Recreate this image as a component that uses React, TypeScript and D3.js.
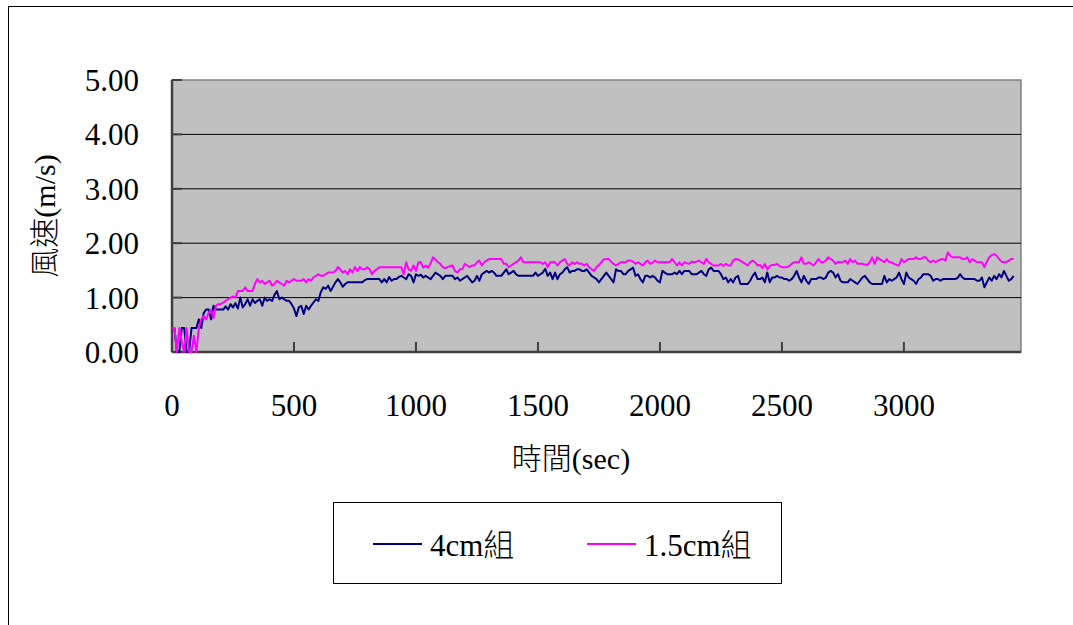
import React from 'react';
import * as d3 from 'd3';

// wind speed (m/s), one reading every 10 s
const STEP_SEC = 10;

const blue4cm = [
  // 0 - 520 s
  0.44, 0.44, 0, 0, 0.44, 0.44, 0, 0, 0.44, 0.44,
  0.44, 0.6, 0.44, 0.72, 0.78, 0.78, 0.6, 0.85, 0.78, 0.78,
  0.78, 0.78, 0.84, 0.78, 0.88, 0.82, 0.9, 0.8, 1.0, 0.82,
  0.88, 0.97, 0.85, 0.97, 0.9, 0.94, 0.97, 0.85, 1.0, 0.94,
  0.97, 0.94, 1.05, 1.12, 0.97, 1.0, 0.97, 0.94, 0.94, 0.88,
  0.8, 0.66, 0.82,
  // 530 - 1010 s
  0.85, 0.7, 0.85, 0.78, 0.85, 0.91, 0.97, 0.94, 1.1, 1.19,
  1.16, 1.22, 1.12, 1.2, 1.28, 1.34, 1.28, 1.2, 1.25, 1.28,
  1.28, 1.28, 1.28, 1.28, 1.28, 1.28, 1.32, 1.34, 1.34, 1.34,
  1.34, 1.34, 1.34, 1.28, 1.34, 1.28, 1.38, 1.31, 1.34, 1.34,
  1.38, 1.4, 1.37, 1.34, 1.43, 1.4, 1.28, 1.43, 1.4,
  // 1020 - 1590 s
  1.42, 1.37, 1.4, 1.37, 1.34, 1.4, 1.46, 1.43, 1.4, 1.34,
  1.4, 1.4, 1.4, 1.4, 1.34, 1.37, 1.31, 1.34, 1.37, 1.4,
  1.34, 1.28, 1.31, 1.4, 1.31, 1.43, 1.46, 1.49, 1.46, 1.49,
  1.46, 1.4, 1.4, 1.4, 1.46, 1.52, 1.43, 1.46, 1.49, 1.43,
  1.4, 1.4, 1.4, 1.4, 1.4, 1.4, 1.4, 1.46, 1.4, 1.43,
  1.46, 1.53, 1.4, 1.46, 1.34, 1.46, 1.34, 1.43,
  // 1600 - 2080 s
  1.46, 1.52, 1.56, 1.46, 1.49, 1.49, 1.52, 1.52, 1.49, 1.49,
  1.52, 1.46, 1.4, 1.37, 1.34, 1.28, 1.34, 1.4, 1.46, 1.4,
  1.34, 1.28, 1.52, 1.49, 1.49, 1.43, 1.43, 1.49, 1.52, 1.55,
  1.4, 1.43, 1.34, 1.28, 1.4, 1.4, 1.37, 1.4, 1.37, 1.31,
  1.28, 1.49, 1.46, 1.43, 1.43, 1.43, 1.46, 1.43, 1.49,
  // 2090 - 2650 s
  1.43, 1.49, 1.49, 1.49, 1.43, 1.43, 1.43, 1.46, 1.49, 1.43,
  1.4, 1.52, 1.55, 1.49, 1.49, 1.49, 1.43, 1.34, 1.37, 1.28,
  1.34, 1.28, 1.37, 1.4, 1.25, 1.25, 1.25, 1.25, 1.31, 1.4,
  1.46, 1.34, 1.34, 1.37, 1.28, 1.46, 1.28, 1.37, 1.37, 1.4,
  1.37, 1.37, 1.34, 1.34, 1.31, 1.34, 1.4, 1.49, 1.37, 1.28,
  1.4, 1.31, 1.25, 1.34, 1.34, 1.34, 1.37,
  // 2660 - 3180 s
  1.37, 1.34, 1.37, 1.46, 1.49, 1.46, 1.37, 1.43, 1.31, 1.28,
  1.28, 1.28, 1.34, 1.31, 1.28, 1.25, 1.31, 1.37, 1.4, 1.34,
  1.28, 1.25, 1.25, 1.25, 1.25, 1.25, 1.4, 1.28, 1.34, 1.31,
  1.34, 1.37, 1.46, 1.34, 1.25, 1.46, 1.37, 1.34, 1.31, 1.25,
  1.34, 1.37, 1.43, 1.43, 1.43, 1.4, 1.31, 1.34, 1.34, 1.31,
  1.34, 1.34, 1.34,
  // 3190 - 3450 s
  1.34, 1.34, 1.34, 1.36, 1.43, 1.37, 1.34, 1.34, 1.34, 1.34,
  1.34, 1.31, 1.31, 1.37, 1.19, 1.28, 1.37, 1.31, 1.4, 1.34,
  1.43, 1.37, 1.49, 1.4, 1.31, 1.34, 1.4,
];

const pink15cm = [
  // 0 - 520 s
  0.44, 0.44, 0, 0.44, 0.2, 0, 0.44, 0, 0, 0.3,
  0, 0.44, 0.6, 0.66, 0.6, 0.72, 0.78, 0.62, 0.85, 0.88,
  0.88, 0.91, 0.94, 0.97, 1.0, 1.02, 1.0, 1.12, 1.12, 1.12,
  1.19, 1.12, 1.12, 1.12, 1.25, 1.34, 1.28, 1.31, 1.25, 1.28,
  1.31, 1.22, 1.25, 1.31, 1.28, 1.25, 1.22, 1.31, 1.28, 1.31,
  1.34, 1.31, 1.31,
  // 530 - 1010 s
  1.31, 1.34, 1.28, 1.34, 1.31, 1.37, 1.4, 1.43, 1.4, 1.4,
  1.43, 1.46, 1.46, 1.46, 1.49, 1.56, 1.52, 1.46, 1.49, 1.43,
  1.52, 1.46, 1.56, 1.49, 1.56, 1.52, 1.52, 1.56, 1.52, 1.43,
  1.49, 1.52, 1.56, 1.56, 1.56, 1.56, 1.56, 1.56, 1.56, 1.56,
  1.56, 1.56, 1.43, 1.65, 1.52, 1.49, 1.59, 1.49, 1.65,
  // 1020 - 1590 s
  1.65, 1.55, 1.59, 1.55, 1.63, 1.74, 1.7, 1.65, 1.62, 1.56,
  1.54, 1.56, 1.58, 1.59, 1.49, 1.46, 1.52, 1.52, 1.62, 1.59,
  1.56, 1.59, 1.59, 1.65, 1.68, 1.59, 1.65, 1.68, 1.71, 1.71,
  1.71, 1.71, 1.71, 1.71, 1.62, 1.62, 1.56, 1.59, 1.62, 1.65,
  1.68, 1.74, 1.65, 1.65, 1.65, 1.65, 1.65, 1.65, 1.65, 1.65,
  1.62, 1.65, 1.56, 1.65, 1.65, 1.65, 1.59, 1.65,
  // 1600 - 2080 s
  1.68, 1.71, 1.62, 1.59, 1.65, 1.62, 1.65, 1.62, 1.62, 1.59,
  1.62, 1.56, 1.52, 1.49, 1.56, 1.6, 1.65, 1.7, 1.71, 1.71,
  1.66, 1.62, 1.59, 1.62, 1.65, 1.65, 1.65, 1.68, 1.68, 1.66,
  1.62, 1.65, 1.62, 1.59, 1.65, 1.68, 1.62, 1.64, 1.68, 1.65,
  1.65, 1.65, 1.65, 1.65, 1.65, 1.71, 1.65, 1.59, 1.65,
  // 2090 - 2650 s
  1.59, 1.65, 1.63, 1.62, 1.66, 1.65, 1.66, 1.68, 1.65, 1.62,
  1.71, 1.65, 1.62, 1.59, 1.59, 1.59, 1.62, 1.58, 1.62, 1.59,
  1.59, 1.68, 1.71, 1.7, 1.68, 1.65, 1.62, 1.59, 1.65, 1.68,
  1.65, 1.59, 1.6, 1.54, 1.62, 1.52, 1.58, 1.6, 1.6, 1.62,
  1.58, 1.56, 1.56, 1.56, 1.58, 1.62, 1.65, 1.65, 1.65, 1.74,
  1.62, 1.62, 1.65, 1.62, 1.59, 1.65, 1.71,
  // 2660 - 3180 s
  1.65, 1.65, 1.68, 1.74, 1.71, 1.68, 1.62, 1.66, 1.65, 1.65,
  1.68, 1.62, 1.71, 1.65, 1.68, 1.62, 1.62, 1.62, 1.61, 1.6,
  1.65, 1.74, 1.62, 1.74, 1.71, 1.68, 1.65, 1.71, 1.65, 1.65,
  1.62, 1.6, 1.59, 1.71, 1.65, 1.68, 1.71, 1.71, 1.71, 1.74,
  1.71, 1.71, 1.74, 1.74, 1.68, 1.65, 1.68, 1.65, 1.68, 1.7,
  1.71, 1.68, 1.83,
  // 3190 - 3450 s
  1.77, 1.74, 1.74, 1.74, 1.74, 1.71, 1.71, 1.74, 1.65, 1.71,
  1.68, 1.65, 1.65, 1.65, 1.56, 1.66, 1.74, 1.78, 1.8, 1.77,
  1.71, 1.66, 1.65, 1.65, 1.68, 1.71, 1.71,
];

const xTicks = [0, 500, 1000, 1500, 2000, 2500, 3000];
const yTicks = [0, 1, 2, 3, 4, 5];

const seriesList = [
  { name: '4cm組', values: blue4cm, color: '#000080' },
  { name: '1.5cm組', values: pink15cm, color: '#FF00FF' },
];

const FONT = "'Times New Roman', 'Liberation Serif', 'Noto Sans CJK TC', serif";

const App = () => {
  const plot = { left: 172, top: 80, right: 1021, bottom: 352 };

  const x = d3.scaleLinear().domain([0, 3480]).range([plot.left, plot.right]);
  const y = d3.scaleLinear().domain([0, 5]).range([plot.bottom, plot.top]);

  const line = d3
    .line<number>()
    .x((_, i) => x(i * STEP_SEC))
    .y((d) => y(d));

  return (
    <svg
      width={1073}
      height={625}
      style={{ position: 'absolute', left: 0, top: 0, background: '#fff' }}
      fontFamily={FONT}
    >
      {/* chart frame */}
      <rect x={8.5} y={6.5} width={1080} height={640} fill="#fff" stroke="#000" strokeWidth={1} />

      {/* plot area */}
      <rect
        x={plot.left}
        y={plot.top}
        width={plot.right - plot.left}
        height={plot.bottom - plot.top}
        fill="#C0C0C0"
        stroke="#808080"
        strokeWidth={1.5}
      />

      {/* gridlines */}
      {yTicks.slice(1, -1).map((t) => (
        <line key={t} x1={plot.left} x2={plot.right} y1={y(t)} y2={y(t)} stroke="#000" strokeWidth={1} />
      ))}

      {/* axes */}
      <line x1={plot.left} x2={plot.left} y1={plot.top} y2={plot.bottom} stroke="#404040" strokeWidth={2.5} />
      <line x1={plot.left} x2={plot.right} y1={plot.bottom} y2={plot.bottom} stroke="#404040" strokeWidth={2.5} />
      {yTicks.map((t) => (
        <line key={t} x1={plot.left} x2={plot.left + 10} y1={y(t)} y2={y(t)} stroke="#404040" strokeWidth={2} />
      ))}
      {xTicks.map((t) => (
        <line key={t} x1={x(t)} x2={x(t)} y1={plot.bottom} y2={plot.bottom - 10} stroke="#404040" strokeWidth={2} />
      ))}

      {/* series */}
      {seriesList.map((s) => (
        <path key={s.name} d={line(s.values) || ''} fill="none" stroke={s.color} strokeWidth={2} strokeLinejoin="round" />
      ))}

      {/* tick labels */}
      {yTicks.map((t) => (
        <text key={t} x={139} y={y(t) + 11} textAnchor="end" fontSize={31} fill="#000">
          {t.toFixed(2)}
        </text>
      ))}
      {xTicks.map((t) => (
        <text key={t} x={x(t)} y={416} textAnchor="middle" fontSize={31} fill="#000">
          {t}
        </text>
      ))}

      {/* axis titles */}
      <text x={571} y={469} textAnchor="middle" fontSize={30} fontWeight={300} fill="#000">
        時間(sec)
      </text>
      <text
        transform="translate(55,216) rotate(-90)"
        textAnchor="middle"
        fontSize={30}
        fontWeight={300}
        fill="#000"
      >
        風速(m/s)
      </text>

      {/* legend */}
      <rect x={333.5} y={502.5} width={448} height={81} fill="#fff" stroke="#000" strokeWidth={1} />
      {seriesList.map((s, i) => {
        const lx = i === 0 ? 373 : 587;
        return (
          <g key={s.name}>
            <line x1={lx} x2={lx + 49} y1={544} y2={544} stroke={s.color} strokeWidth={2} />
            <text x={lx + 57} y={556} fontSize={31} fontWeight={300} fill="#000">
              {s.name}
            </text>
          </g>
        );
      })}
    </svg>
  );
};

export default App;
